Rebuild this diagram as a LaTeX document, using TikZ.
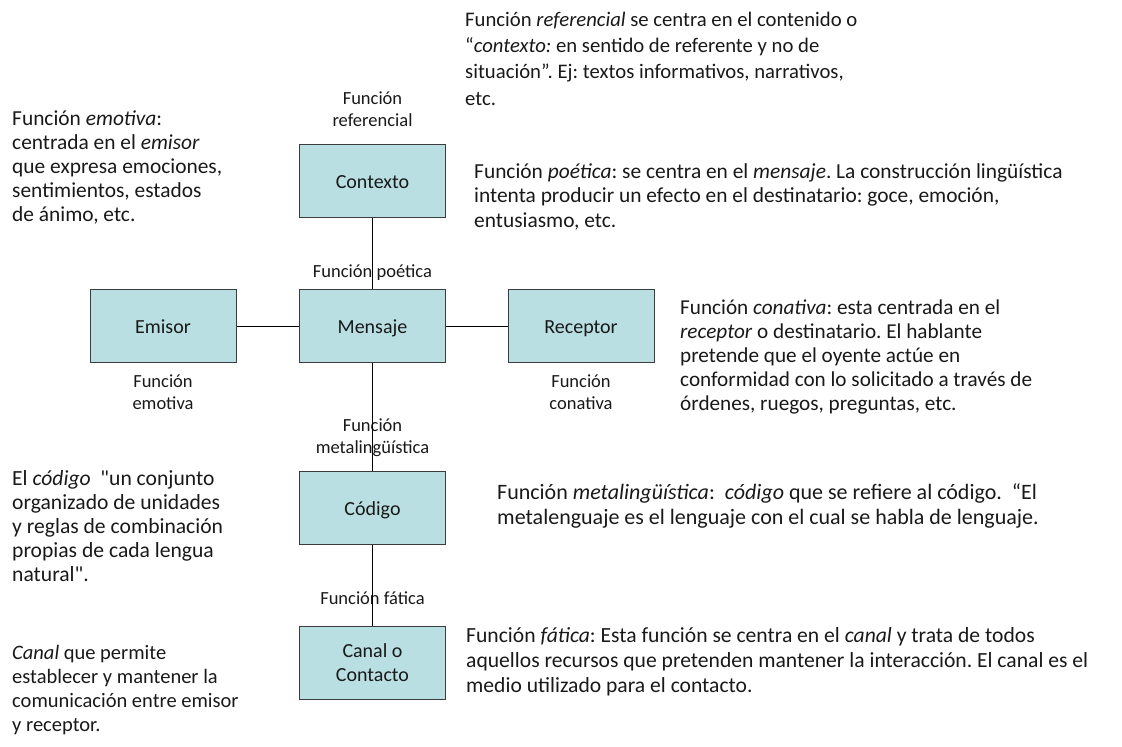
\documentclass[tikz,border=0pt]{standalone}
\usepackage{fontspec}
\setmainfont{Carlito}[Ligatures=TeXOff]
\frenchspacing
\definecolor{boxfill}{RGB}{185,223,226}
\definecolor{edge}{RGB}{60,60,60}
\definecolor{txt}{RGB}{25,25,25}
\newcommand\blk[3]{{\fontsize{#1}{#2}\selectfont\frenchspacing\begin{tabular}[t]{@{}l@{}}#3\end{tabular}}}
\newcommand\cblk[3]{{\fontsize{#1}{#2}\selectfont\begin{tabular}[t]{@{}c@{}}#3\end{tabular}}}
\tikzset{
  box/.style={draw=edge, line width=1pt, fill=boxfill, minimum width=146pt, minimum height=73pt,
    inner sep=0pt, font=\fontsize{20}{24}\selectfont, text=txt, align=center},
  sbox/.style={box, text height=14pt, text depth=0pt},
  lbl/.style={inner sep=0pt, anchor=base, text=txt},
  desc/.style={inner sep=0pt, anchor=base west, text=txt},
  link/.style={draw=black, line width=0.9pt}
}
\begin{document}
\begin{tikzpicture}[x=1pt,y=-1pt]
\useasboundingbox (0,0) rectangle (1122,747);
% boxes
\node[sbox] (ctx) at (372.5,181) {Contexto};
\node[sbox] (msg) at (372.5,326) {Mensaje};
\node[sbox] (emi) at (163,326) {Emisor};
\node[sbox] (rec) at (581,326) {Receptor};
\node[sbox] (cod) at (372.5,508) {Código};
\node[box] (can) at (372.5,663) {Canal o\\Contacto};
% function labels
\node[lbl] (lref) at (372.5,104) {\cblk{18.5}{22}{Función\\referencial}};
\node[lbl] (lpoe) at (372.5,277) {\cblk{18.5}{22}{Función poética}};
\node[lbl] (lemo) at (163,387) {\cblk{18.5}{22}{Función\\emotiva}};
\node[lbl] (lcon) at (581,387) {\cblk{18.5}{22}{Función\\conativa}};
\node[lbl] (lmet) at (372.5,431) {\cblk{18.5}{22}{Función\\metalingüística}};
\node[lbl] (lfat) at (372.5,604) {\cblk{18.5}{22}{Función fática}};
% connectors
\draw[link] (ctx) -- (msg);
\draw[link] (emi) -- (msg);
\draw[link] (msg) -- (rec);
\draw[link] (msg) -- (cod);
\draw[link] (cod) -- (can);
% descriptions
\node[desc] (dref) at (465,26) {\blk{20.7}{26.4}{Función \textit{referencial} se centra en el contenido o\\
“\textit{contexto:} en sentido de referente y no de\\
situación”. Ej: textos informativos, narrativos,\\
etc.}};
\node[desc] (demo) at (12,125) {\blk{21.4}{24.2}{Función \textit{emotiva}:\\
centrada en el \textit{emisor}\\
que expresa emociones,\\
sentimientos, estados\\
de ánimo, etc.}};
\node[desc] (dpoe) at (474,178) {\blk{21.4}{24.5}{Función \textit{poética}: se centra en el \textit{mensaje}. La construcción lingüística\\
intenta producir un efecto en el destinatario: goce, emoción,\\
entusiasmo, etc.}};
\node[desc] (dcon) at (680,314) {\blk{21.2}{24.2}{Función \textit{conativa}: esta centrada en el\\
\textit{receptor} o destinatario. El hablante\\
pretende que el oyente actúe en\\
conformidad con lo solicitado a través de\\
órdenes, ruegos, preguntas, etc.}};
\node[desc] (dcod) at (12,485) {\blk{21.6}{24.2}{El \textit{código}~~"un conjunto\\
organizado de unidades\\
y reglas de combinación\\
propias de cada lengua\\
natural".}};
\node[desc] (dmet) at (497,499) {\blk{22}{25}{Función \textit{metalingüística}:~~\textit{código} que se refiere al código.~~“El\\
metalenguaje es el lenguaje con el cual se habla de lenguaje.}};
\node[desc] (dfat) at (466,642) {\blk{21.6}{25.2}{Función \textit{fática}: Esta función se centra en el \textit{canal} y trata de todos\\
aquellos recursos que pretenden mantener la interacción. El canal es el\\
medio utilizado para el contacto.}};
\node[desc] (dcan) at (12,659) {\blk{20.5}{24}{\textit{Canal} que permite\\
establecer y mantener la\\
comunicación entre emisor\\
y receptor.}};
\end{tikzpicture}
\end{document}
